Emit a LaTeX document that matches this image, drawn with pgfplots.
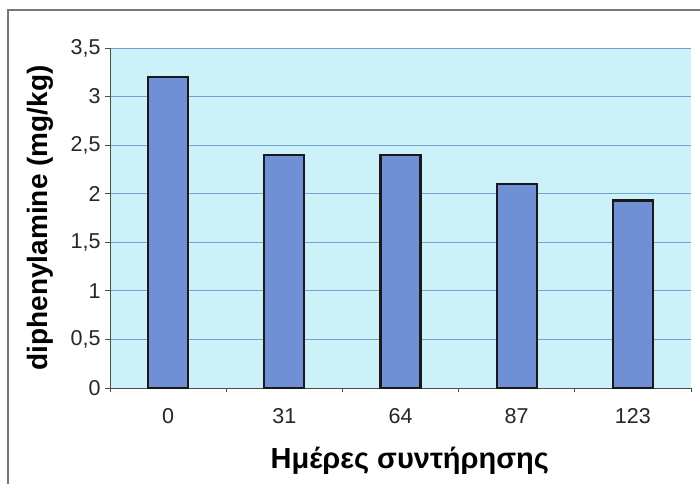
\documentclass[border=0pt]{standalone}
\usepackage{fontspec}
\setmainfont{Liberation Sans}
\usepackage{pgfplots}
\pgfplotsset{compat=1.18}

\definecolor{barfill}{RGB}{112,144,214}
\definecolor{plotbg}{RGB}{205,241,248}
\definecolor{gridc}{RGB}{110,164,208}
\definecolor{framec}{RGB}{120,120,120}

\begin{document}
\begin{tikzpicture}[x=1pt,y=1pt]
  \useasboundingbox (0,0) rectangle (700,484);
  \draw[framec, line width=1.2pt] (8,0) -- (8,474) -- (700,474);

  \begin{axis}[
      at={(110pt,96pt)}, anchor=south west,
      scale only axis,
      width=581pt, height=340pt,
      xmin=-0.5, xmax=4.5,
      ymin=0, ymax=3.5,
      ytick={0,0.5,...,3.5},
      xtick={0,1,2,3,4},
      xticklabels={0,31,64,87,123},
      minor xtick={-0.5,0.5,1.5,2.5,3.5,4.5},
      major x tick style={draw=none},
      minor tick length=4pt,
      major tick length=5pt,
      tick align=outside,
      axis x line*=bottom, axis y line*=left,
      axis line style={draw=black!70, line width=0.8pt, -},
      tick style={black!70, line width=0.8pt},
      ymajorgrids,
      major grid style={gridc, line width=0.8pt},
      axis background/.style={fill=plotbg},
      /pgf/number format/use comma,
      /pgf/number format/assume math mode=true,
      ticklabel style={font=\fontsize{21.5}{23}\selectfont, text=black!85},
      xticklabel style={yshift=-12pt},
      yticklabel style={xshift=-1pt},
      xlabel={Ημέρες συντήρησης},
      ylabel={diphenylamine (mg/kg)},
      xlabel style={font=\bfseries\fontsize{29}{32}\selectfont, at={(axis description cs:0.516,-0.215)}, anchor=center},
      ylabel style={font=\bfseries\fontsize{28}{31}\selectfont, at={(axis description cs:-0.12,0.5)}, anchor=center},
    ]
    \addplot[ybar, bar width=40pt, fill=barfill, draw=black!90, line width=2.2pt]
      coordinates {(0,3.20) (1,2.40) (2,2.40) (3,2.10) (4,1.93)};
  \end{axis}
\end{tikzpicture}
\end{document}
